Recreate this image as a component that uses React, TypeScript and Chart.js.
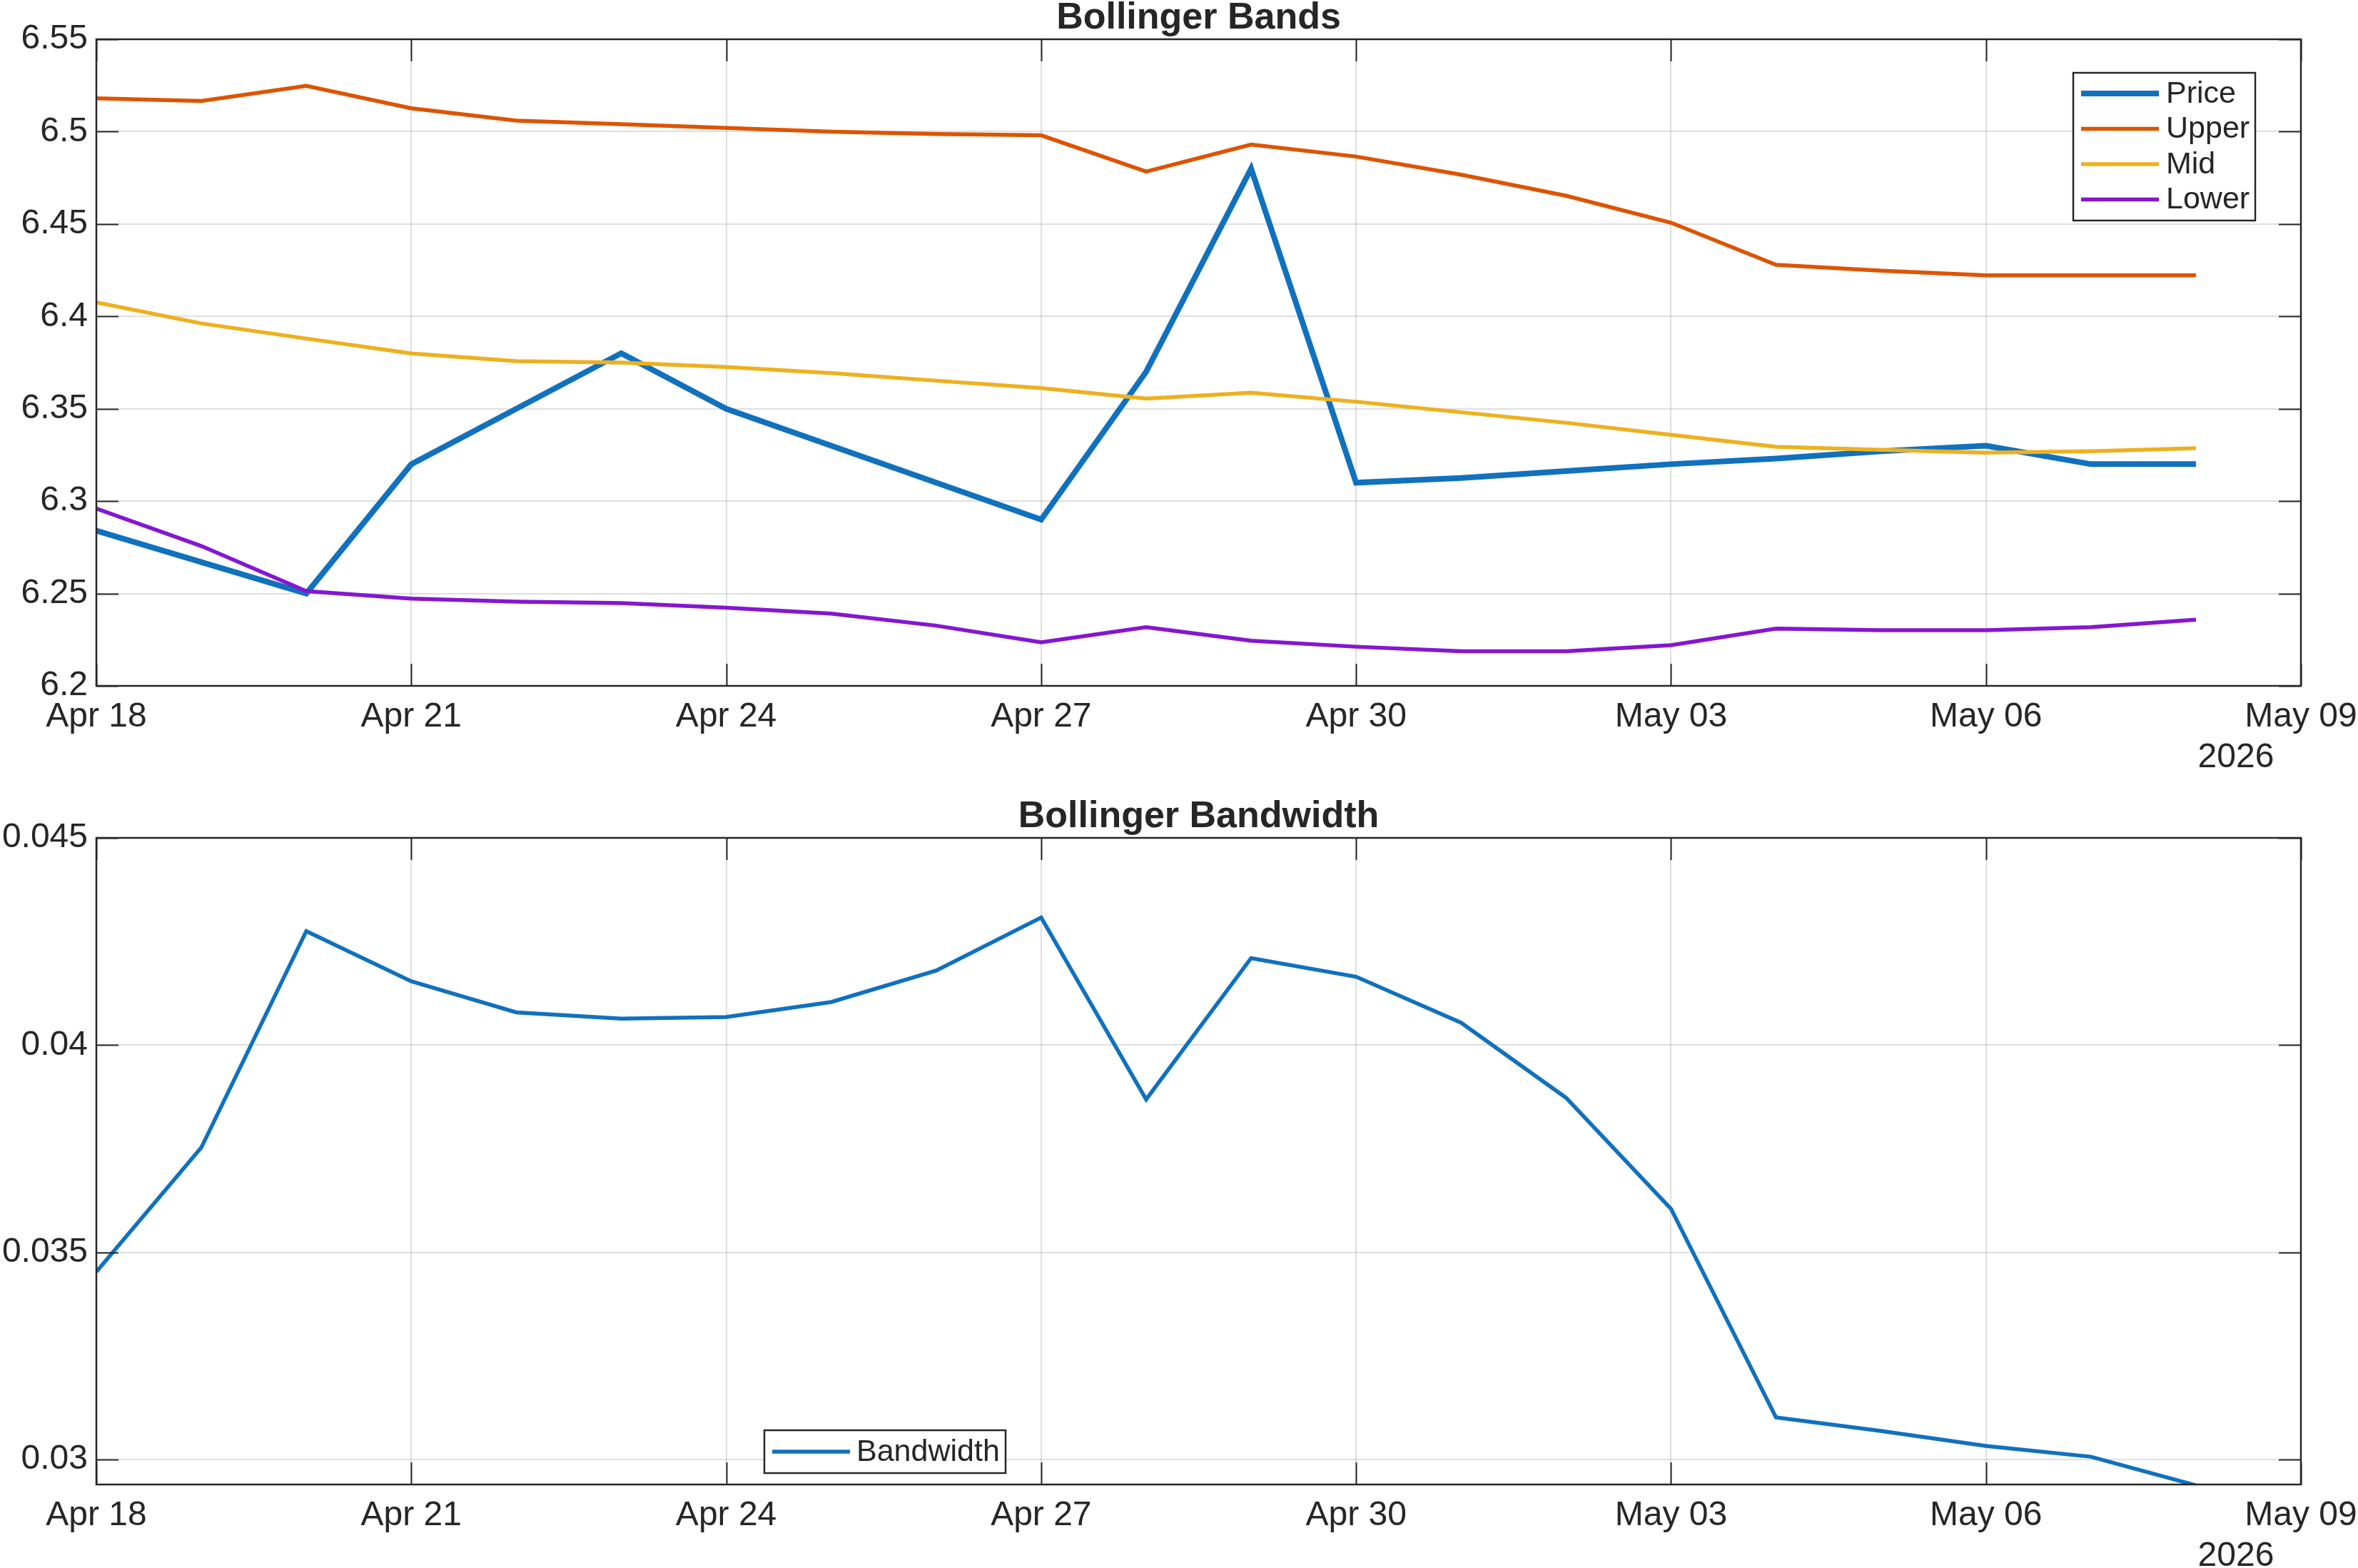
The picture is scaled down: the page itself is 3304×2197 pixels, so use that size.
import React, { useEffect, useRef } from "react";
import { Chart, registerables } from "chart.js";

Chart.register(...registerables);

// ---- data ----------------------------------------------------------------
const dates = [
  "2026-04-18", "2026-04-19", "2026-04-20", "2026-04-21", "2026-04-22",
  "2026-04-23", "2026-04-24", "2026-04-25", "2026-04-26", "2026-04-27",
  "2026-04-28", "2026-04-29", "2026-04-30", "2026-05-01", "2026-05-02",
  "2026-05-03", "2026-05-04", "2026-05-05", "2026-05-06", "2026-05-07",
  "2026-05-08",
];

const price = [
  6.284, 6.267, 6.25, 6.32, 6.35, 6.38, 6.35, 6.33, 6.31, 6.29, 6.37,
  6.48, 6.31, 6.3125, 6.3163, 6.32, 6.323, 6.327, 6.33, 6.32, 6.32,
];

const upper = [
  6.518, 6.5166, 6.5248, 6.5126, 6.506, 6.504, 6.502, 6.5, 6.4987, 6.498,
  6.4784, 6.493, 6.4865, 6.4767, 6.4653, 6.4507, 6.4279, 6.4247, 6.4222,
  6.4222, 6.4222,
];

const mid = [
  6.4076, 6.3962, 6.388, 6.3799, 6.3758, 6.375, 6.3726, 6.3693, 6.3652,
  6.3612, 6.3555, 6.3587, 6.3538, 6.3481, 6.3424, 6.3359, 6.3294, 6.3278,
  6.3262, 6.327, 6.3286,
];

const lower = [
  6.296, 6.2757, 6.2513, 6.2472, 6.2456, 6.2448, 6.2423, 6.2391, 6.2326,
  6.2236, 6.2318, 6.2244, 6.2212, 6.2187, 6.2187, 6.222, 6.231, 6.2301,
  6.2301, 6.2318, 6.2358,
];

const bandwidth = [
  0.03453, 0.03753, 0.04275, 0.04154, 0.04079, 0.04064, 0.04068, 0.04104,
  0.0418, 0.04308, 0.03869, 0.0421, 0.04165, 0.04054, 0.03873, 0.03605,
  0.03102, 0.03069, 0.03033, 0.03007, 0.02938,
];

const xTickLabels = ["Apr 18", "Apr 21", "Apr 24", "Apr 27", "Apr 30", "May 03", "May 06", "May 09"];
const xTickDays = [0, 3, 6, 9, 12, 15, 18, 21];
const yearLabel = "2026";

const bandsTicks = [6.2, 6.25, 6.3, 6.35, 6.4, 6.45, 6.5, 6.55];
const bandsRange = [6.2, 6.55];
const widthTicks = [0.03, 0.035, 0.04, 0.045];
const widthRange = [0.0294, 0.045];

// ---- styling ---------------------------------------------------------------
const FONT = "'Liberation Sans', Arial, Helvetica, sans-serif";
const TEXT = "#262626";
const AXIS = "#262626";
const GRID = "rgba(38,38,38,0.15)";
const C_PRICE = "#1071BE";
const C_UPPER = "#DD5400";
const C_MID = "#EDB120";
const C_LOWER = "#8516D1";

const W = 3304;
const TOP_H = 1100;
const BOT_H = 2197 - TOP_H;

const dayOf = (d: string) => (Date.parse(d) - Date.parse(dates[0])) / 86400000;
const series = (vals: number[]) => vals.map((v, i) => ({ x: dayOf(dates[i]), y: v }));

// Box, inward ticks, title and secondary date label in the MATLAB style.
const axesDecor = {
  id: "axesDecor",
  afterDatasetsDraw(chart: any, _args: any, opts: any) {
    const { ctx, chartArea: a, scales } = chart;
    const tl = opts.tickLength;
    ctx.save();
    ctx.strokeStyle = AXIS;
    ctx.lineWidth = 2;
    ctx.beginPath();
    for (const t of scales.x.ticks) {
      const px = Math.round(scales.x.getPixelForValue(t.value)) + 0.5;
      ctx.moveTo(px, a.bottom);
      ctx.lineTo(px, a.bottom - tl);
      ctx.moveTo(px, a.top);
      ctx.lineTo(px, a.top + tl);
    }
    for (const t of scales.y.ticks) {
      const py = Math.round(scales.y.getPixelForValue(t.value)) + 0.5;
      ctx.moveTo(a.left, py);
      ctx.lineTo(a.left + tl, py);
      ctx.moveTo(a.right, py);
      ctx.lineTo(a.right - tl, py);
    }
    ctx.stroke();
    ctx.lineWidth = 2.5;
    ctx.strokeRect(a.left, a.top, a.right - a.left, a.bottom - a.top);

    ctx.fillStyle = TEXT;
    ctx.textAlign = "center";
    ctx.textBaseline = "alphabetic";
    ctx.font = `bold 52px ${FONT}`;
    ctx.fillText(opts.title, (a.left + a.right) / 2, a.top - 15);
    ctx.font = `48px ${FONT}`;
    ctx.fillText(opts.year, a.right - 91, a.bottom + 114);
    ctx.restore();
  },
};

// Boxed legend placed at a fixed spot inside the axes.
const boxedLegend = {
  id: "boxedLegend",
  afterDatasetsDraw(chart: any, _args: any, opts: any) {
    const { ctx } = chart;
    const ds = chart.data.datasets;
    ctx.save();
    ctx.fillStyle = "#ffffff";
    ctx.fillRect(opts.x, opts.y, opts.w, opts.h);
    ctx.strokeStyle = AXIS;
    ctx.lineWidth = 2.5;
    ctx.strokeRect(opts.x, opts.y, opts.w, opts.h);
    ctx.font = `43px ${FONT}`;
    ctx.textAlign = "left";
    ctx.textBaseline = "middle";
    ds.forEach((d: any, i: number) => {
      const cy = opts.y + opts.firstRow + i * opts.rowH;
      ctx.strokeStyle = d.borderColor;
      ctx.lineWidth = d.borderWidth;
      ctx.beginPath();
      ctx.moveTo(opts.x + opts.sampleX, cy);
      ctx.lineTo(opts.x + opts.sampleX + opts.sampleLen, cy);
      ctx.stroke();
      ctx.fillStyle = TEXT;
      ctx.fillText(d.label, opts.x + opts.textX, cy + 1);
    });
    ctx.restore();
  },
};

function makeOptions(
  yRange: number[],
  yTicks: number[],
  canvasH: number,
  plotTop: number,
  plotBottom: number,
  decor: any,
  legend: any
) {
  return {
    responsive: false,
    animation: false as const,
    devicePixelRatio: 1,
    layout: { padding: { top: plotTop, right: 80, left: 0, bottom: 0 } },
    elements: { point: { radius: 0 }, line: { tension: 0, borderJoinStyle: "miter" as const } },
    plugins: {
      legend: { display: false },
      title: { display: false },
      tooltip: { enabled: false },
      axesDecor: decor,
      boxedLegend: legend,
    },
    scales: {
      x: {
        type: "linear" as const,
        min: 0,
        max: 21,
        afterBuildTicks: (s: any) => {
          s.ticks = xTickDays.map((v) => ({ value: v }));
        },
        afterFit: (s: any) => {
          s.height = canvasH - plotBottom;
          s.paddingLeft = 0;
          s.paddingRight = 0;
        },
        grid: { color: GRID, lineWidth: 2, drawTicks: false },
        border: { display: false },
        ticks: {
          autoSkip: false,
          maxRotation: 0,
          padding: 15,
          color: TEXT,
          font: { family: FONT, size: 48 },
          callback: (v: number) => xTickLabels[xTickDays.indexOf(Math.round(v))] ?? "",
        },
      },
      y: {
        type: "linear" as const,
        min: yRange[0],
        max: yRange[1],
        afterBuildTicks: (s: any) => {
          s.ticks = yTicks.map((v) => ({ value: v }));
        },
        afterFit: (s: any) => {
          s.width = 135;
          s.paddingTop = 0;
          s.paddingBottom = 0;
        },
        grid: { color: GRID, lineWidth: 2, drawTicks: false },
        border: { display: false },
        ticks: {
          padding: 12,
          color: TEXT,
          font: { family: FONT, size: 48 },
          callback: (v: number) => String(Number(v.toFixed(4))),
        },
      },
    },
  };
}

export default function App() {
  const topRef = useRef<HTMLCanvasElement | null>(null);
  const botRef = useRef<HTMLCanvasElement | null>(null);

  useEffect(() => {
    if (!topRef.current || !botRef.current) return;

    const bands = new Chart(topRef.current, {
      type: "line",
      data: {
        datasets: [
          { label: "Price", data: series(price), borderColor: C_PRICE, borderWidth: 8, order: 4 },
          { label: "Upper", data: series(upper), borderColor: C_UPPER, borderWidth: 5.5, order: 3 },
          { label: "Mid", data: series(mid), borderColor: C_MID, borderWidth: 5.5, order: 2 },
          { label: "Lower", data: series(lower), borderColor: C_LOWER, borderWidth: 5.5, order: 1 },
        ],
      },
      options: makeOptions(
        bandsRange,
        bandsTicks,
        TOP_H,
        55,
        961,
        { title: "Bollinger Bands", year: yearLabel, tickLength: 31 },
        { x: 2905, y: 102, w: 255, h: 207, firstRow: 29, rowH: 49.5, sampleX: 11, sampleLen: 109, textX: 130 }
      ) as any,
      plugins: [axesDecor, boxedLegend],
    });

    const bw = new Chart(botRef.current, {
      type: "line",
      data: {
        datasets: [
          { label: "Bandwidth", data: series(bandwidth), borderColor: C_PRICE, borderWidth: 5.5 },
        ],
      },
      options: makeOptions(
        widthRange,
        widthTicks,
        BOT_H,
        74,
        980,
        { title: "Bollinger Bandwidth", year: yearLabel, tickLength: 31 },
        { x: 1071, y: 904, w: 338, h: 60, firstRow: 30, rowH: 49.5, sampleX: 11, sampleLen: 109, textX: 129 }
      ) as any,
      plugins: [axesDecor, boxedLegend],
    });

    return () => {
      bands.destroy();
      bw.destroy();
    };
  }, []);

  return (
    <div style={{ position: "absolute", left: 0, top: 0, width: W, height: 2197, background: "#fff", overflow: "hidden" }}>
      <canvas ref={topRef} width={W} height={TOP_H} style={{ display: "block", width: W, height: TOP_H }} />
      <canvas ref={botRef} width={W} height={BOT_H} style={{ display: "block", width: W, height: BOT_H }} />
    </div>
  );
}
